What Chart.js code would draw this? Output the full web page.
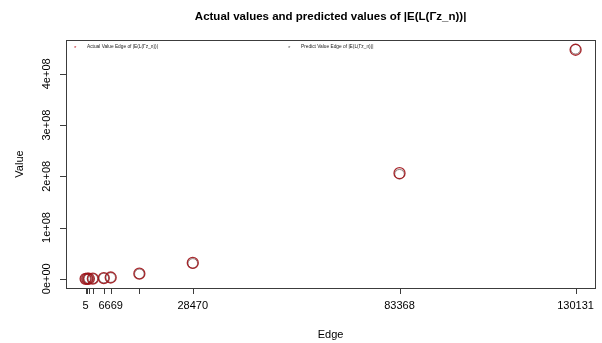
<!DOCTYPE html>
<html>
<head>
<meta charset="utf-8">
<script src="https://cdn.jsdelivr.net/npm/chart.js@4/dist/chart.umd.min.js"></script>
<style>
  html, body { margin: 0; padding: 0; background: #fff; }
  #wrap { width: 602px; height: 343px; }
</style>
</head>
<body>
<div id="wrap"><canvas id="c" width="602" height="343"></canvas></div>
<script>
// Number of edges of each graph and the energy values
const edges = [5, 450, 870, 1930, 4840, 6669, 14280, 28470, 83368, 130131];
const actualValues  = [8, 2.3e4, 7.0e4, 2.9e5, 1.4e6, 2.5e6, 1.0e7, 3.1e7, 2.06e8, 4.47e8];
const predictValues = [9, 2.2e4, 6.9e4, 2.8e5, 1.4e6, 2.4e6, 9.6e6, 3.0e7, 2.04e8, 4.48e8];
// Axis ticks: all edge counts get a tick mark, only some carry a label
const xLabelled = [5, 6669, 28470, 83368, 130131];
const yTicks = [0, 1e8, 2e8, 3e8, 4e8];
const yTickLabels = ['0e+00', '1e+08', '2e+08', '3e+08', '4e+08'];

const titleText = 'Actual values and predicted values of |E(L(\u0393z_n))|';
const legendLabels = ['Actual Value Edge of |E(L(\u0393z_n))|', 'Predict Value Edge of |E(L(\u0393z_n))|'];
const FONT = '"Liberation Sans", Arial, sans-serif';

const toPoints = (ys) => edges.map((x, i) => ({ x: x, y: ys[i] }));

const framePlugin = {
  id: 'frame',
  afterDraw(chart) {
    const ctx = chart.ctx;
    const a = chart.chartArea;
    const xs = chart.scales.x, ys = chart.scales.y;
    ctx.save();
    // plot box
    ctx.strokeStyle = '#3c3c3c';
    ctx.lineWidth = 1;
    ctx.strokeRect(Math.round(a.left) + 0.5, Math.round(a.top) + 0.5,
                   Math.round(a.right - a.left), Math.round(a.bottom - a.top));
    // x ticks
    ctx.fillStyle = '#000';
    ctx.font = '11px ' + FONT;
    ctx.textAlign = 'center';
    ctx.textBaseline = 'middle';
    edges.forEach(v => {
      const px = Math.round(xs.getPixelForValue(v)) + 0.5;
      ctx.beginPath();
      ctx.moveTo(px, a.bottom);
      ctx.lineTo(px, a.bottom + 6);
      ctx.stroke();
    });
    xLabelled.forEach(v => {
      ctx.fillText(String(v), xs.getPixelForValue(v), a.bottom + 18);
    });
    // y ticks, labels read bottom to top
    yTicks.forEach((v, i) => {
      const py = Math.round(ys.getPixelForValue(v)) + 0.5;
      ctx.beginPath();
      ctx.moveTo(a.left, py);
      ctx.lineTo(a.left - 6, py);
      ctx.stroke();
      ctx.save();
      ctx.translate(a.left - 19, ys.getPixelForValue(v));
      ctx.rotate(-Math.PI / 2);
      ctx.fillText(yTickLabels[i], 0, 0);
      ctx.restore();
    });
    // axis titles
    ctx.fillText('Edge', (a.left + a.right) / 2, 335);
    ctx.save();
    ctx.translate(20, (a.top + a.bottom) / 2);
    ctx.rotate(-Math.PI / 2);
    ctx.fillText('Value', 0, 0);
    ctx.restore();
    // main title
    ctx.font = 'bold 11.5px ' + FONT;
    ctx.fillText(titleText, (a.left + a.right) / 2, 17);
    // legend
    ctx.textAlign = 'left';
    const legendX = [76, 290];
    const legendColors = ['#c0202a', '#606060'];
    legendLabels.forEach((t, i) => {
      ctx.fillStyle = legendColors[i];
      ctx.font = '6px ' + FONT;
      ctx.fillText('*', legendX[i] - 2, a.top + 8);
      ctx.fillStyle = '#222';
      ctx.font = '4.8px ' + FONT;
      ctx.fillText(t, legendX[i] + 11, a.top + 7);
    });
    ctx.restore();
  }
};

new Chart(document.getElementById('c'), {
  type: 'scatter',
  data: {
    datasets: [
      {
        label: legendLabels[0],
        data: toPoints(actualValues),
        pointStyle: 'circle',
        pointRadius: 5.5,
        pointBorderWidth: 1.3,
        borderColor: 'rgba(160, 20, 25, 0.9)',
        backgroundColor: 'rgba(0,0,0,0)'
      },
      {
        label: legendLabels[1],
        data: toPoints(predictValues),
        pointStyle: 'circle',
        pointRadius: 4.8,
        pointBorderWidth: 1,
        borderColor: 'rgba(70, 40, 40, 0.6)',
        backgroundColor: 'rgba(0,0,0,0)'
      }
    ]
  },
  options: {
    responsive: false,
    animation: false,
    events: [],
    layout: { padding: { left: 66, right: 5, top: 40, bottom: 55 } },
    plugins: { legend: { display: false }, tooltip: { enabled: false }, title: { display: false } },
    scales: {
      x: { type: 'linear', display: false, min: -5200, max: 135336 },
      y: { type: 'linear', display: false, min: -1.8e7, max: 4.66e8 }
    }
  },
  plugins: [framePlugin]
});
</script>
</body>
</html>
